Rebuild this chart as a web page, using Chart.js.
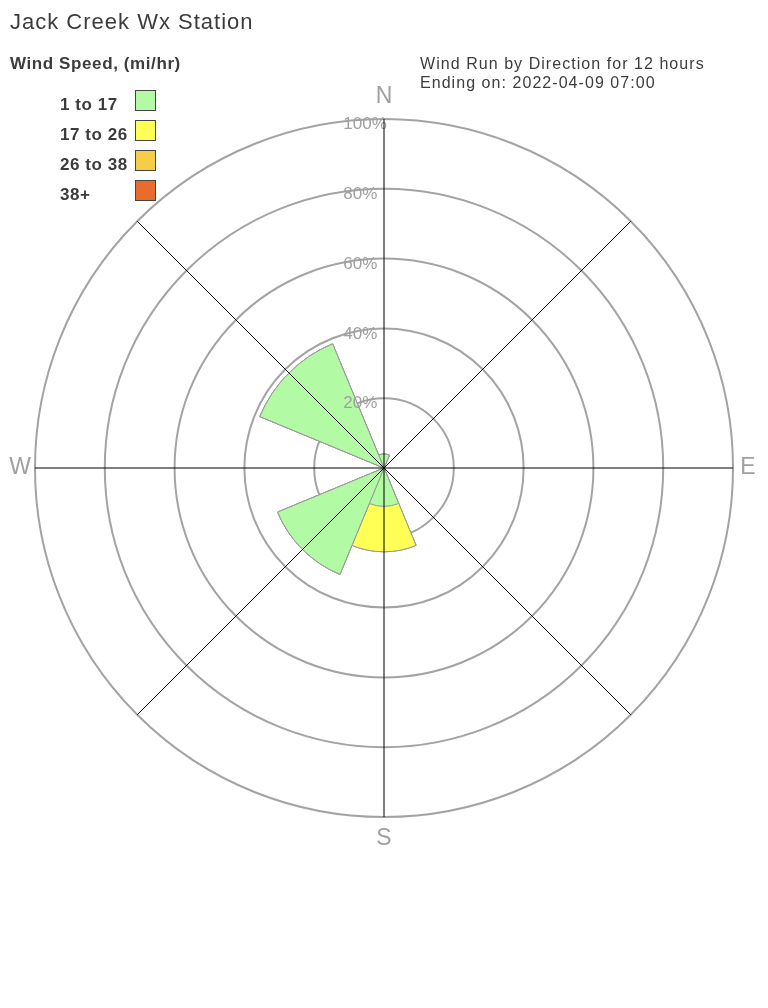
<!DOCTYPE html>
<html>
<head>
<meta charset="utf-8">
<title>Jack Creek Wx Station</title>
<script src="https://cdn.jsdelivr.net/npm/chart.js@4.4.1/dist/chart.umd.min.js"></script>
<style>
  body { margin: 0; background: #fff; }
  #wrap { position: relative; width: 768px; height: 1008px; font-family: "Liberation Sans", Arial, sans-serif; color: #3c3c3c; }
  #chartBox { position: absolute; left: 0; top: 0; width: 768px; height: 1008px; }
  .txt { position: absolute; line-height: 1; white-space: nowrap; }
  .title { left: 10px; top: 11px; font-size: 22px; letter-spacing: 1px; }
  .legtitle { left: 10px; top: 55px; font-size: 17px; font-weight: bold; letter-spacing: .6px; }
  .run { left: 420px; top: 54px; font-size: 16px; letter-spacing: 1.05px; line-height: 19px; }
  .item { left: 60px; font-size: 17px; font-weight: bold; letter-spacing: .55px; }
  .box { position: absolute; left: 135px; width: 21px; height: 21px; box-sizing: border-box; border: 1px solid #444; }
</style>
</head>
<body>
<div id="wrap">
  <div id="chartBox"><canvas id="rose"></canvas></div>
  <div class="txt title">Jack Creek Wx Station</div>
  <div class="txt legtitle">Wind Speed, (mi/hr)</div>
  <div class="txt run">Wind Run by Direction for 12 hours<br>Ending on: 2022-04-09 07:00</div>
  <div id="legend"></div>
</div>
<script>
// directions, starting at north and going clockwise
const directions = ['N', 'NE', 'E', 'SE', 'S', 'SW', 'W', 'NW'];
const compassLabels = ['N', '', 'E', '', 'S', '', 'W', ''];

// percent of wind run per speed band
const speedBands = ['1 to 17', '17 to 26', '26 to 38', '38+'];
const band1 = [4, 0, 0, 0, 11, 33, 0, 38.5];
const band2 = [0, 0, 0, 0, 13, 0, 0, 0];
const band3 = [0, 0, 0, 0, 0, 0, 0, 0];
const band4 = [0, 0, 0, 0, 0, 0, 0, 0];
const bandColors = ['#b2faa4', '#ffff55', '#f7cd48', '#ea6c2d'];

// legend in html
const legend = document.getElementById('legend');
speedBands.forEach((lab, i) => {
  const t = document.createElement('div');
  t.className = 'txt item';
  t.style.top = (96 + i * 30) + 'px';
  t.textContent = lab;
  legend.appendChild(t);
  const b = document.createElement('div');
  b.className = 'box';
  b.style.top = (90 + i * 30) + 'px';
  b.style.background = bandColors[i];
  legend.appendChild(b);
});

// stacked bands -> cumulative rings, drawn on top of each other
const bands = [band1, band2, band3, band4];
let running = directions.map(() => 0);
const datasets = bands.map((vals, i) => {
  running = running.map((v, k) => v + vals[k]);
  return {
    label: speedBands[i],
    data: running.slice(),
    rAxisID: 'r',
    backgroundColor: bandColors[i],
    borderColor: '#999',
    borderWidth: 1
  };
});

// small lineHeight so a leading blank line nudges the % labels just under their ring
const tickFont = { family: '"Liberation Sans", Arial, sans-serif', size: 17, lineHeight: 0.33 };
const hiddenTicks = { stepSize: 20, font: tickFont, color: 'rgba(0,0,0,0)', showLabelBackdrop: false };

// tick labels sit left of the N line, so pad them out with spaces
const measure = document.createElement('canvas').getContext('2d');
measure.font = tickFont.size + 'px ' + tickFont.family;
function padTick(v) {
  const s = v + '%';
  const n = Math.max(0, Math.round((81 - measure.measureText(s).width) / measure.measureText(' ').width));
  return ['', s + ' '.repeat(n)];
}

const compassPlugin = {
  id: 'compass',
  afterDraw(chart) {
    const s = chart.scales.rGrid;
    const ctx = chart.ctx;
    ctx.save();
    ctx.font = '23px ' + tickFont.family;
    ctx.fillStyle = '#a0a0a0';
    ctx.textAlign = 'center';
    ctx.textBaseline = 'middle';
    compassLabels.forEach((lab, i) => {
      if (!lab) return;
      const p = s.getPointPosition(i, s.drawingArea + (i % 4 === 0 ? 22 : 15));
      ctx.fillText(lab, p.x, p.y);
    });
    ctx.restore();
  }
};

new Chart(document.getElementById('rose'), {
  type: 'polarArea',
  data: {
    labels: directions,
    datasets: datasets
  },
  options: {
    responsive: true,
    maintainAspectRatio: false,
    animation: false,
    layout: { padding: { left: 24, right: 24, top: 108, bottom: 180 } },
    scales: {
      // data scale: wedges centred on each direction
      r: {
        min: 0,
        max: 100,
        startAngle: -22.5,
        grid: { display: false },
        angleLines: { display: false },
        pointLabels: { display: false },
        ticks: hiddenTicks
      },
      // rings and percent labels
      rGrid: {
        type: 'radialLinear',
        axis: 'r',
        min: 0,
        max: 100,
        startAngle: 0,
        grid: { circular: true, color: '#a3a3a3', lineWidth: 2 },
        angleLines: { display: false },
        pointLabels: { display: false },
        ticks: {
          stepSize: 20,
          font: tickFont,
          color: '#a0a0a0',
          showLabelBackdrop: false,
          z: 1,
          callback: (v) => padTick(v)
        }
      },
      // compass lines, over the wedges
      rLines: {
        type: 'radialLinear',
        axis: 'r',
        min: 0,
        max: 100,
        startAngle: 0,
        grid: { display: false, z: 1 },
        angleLines: { display: true, color: '#000', lineWidth: 1 },
        pointLabels: { display: false },
        ticks: hiddenTicks
      }
    },
    plugins: {
      legend: { display: false },
      tooltip: { enabled: false }
    }
  },
  plugins: [compassPlugin]
});
</script>
</body>
</html>
